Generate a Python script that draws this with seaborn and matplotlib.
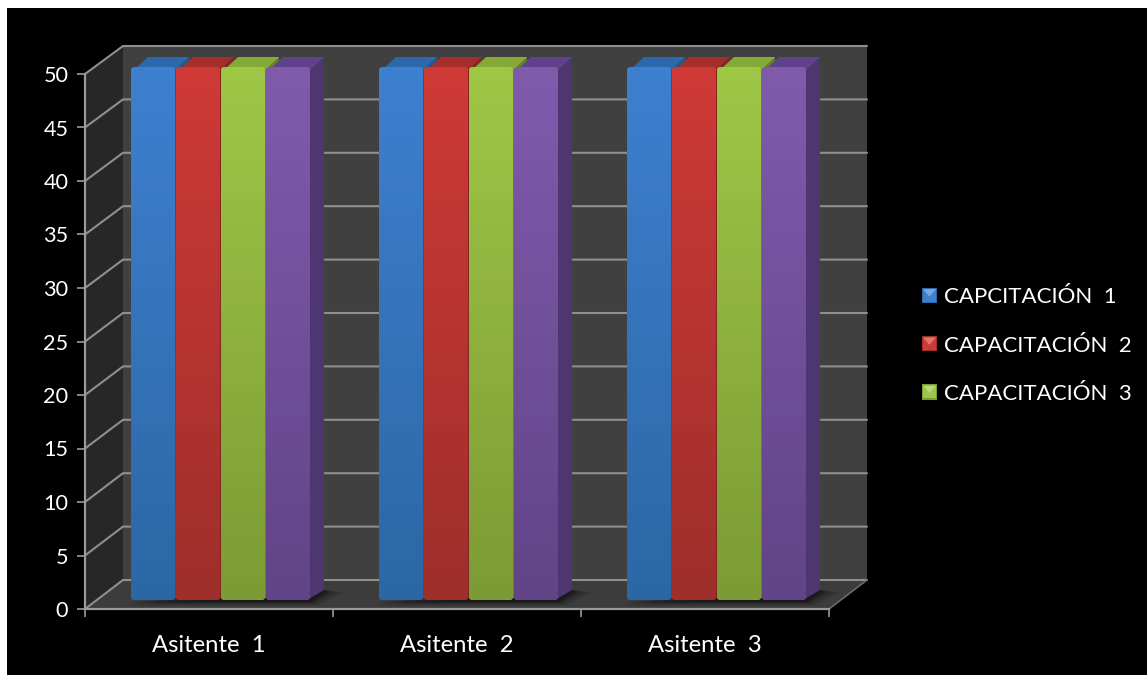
import numpy as np
import pandas as pd
import matplotlib
matplotlib.use("Agg")
import matplotlib.pyplot as plt
import seaborn as sns
from matplotlib.colors import LinearSegmentedColormap, to_rgb
from matplotlib.legend_handler import HandlerBase
from matplotlib.patches import FancyBboxPatch, Polygon, Rectangle

# Data
asistentes = ["Asitente  1", "Asitente  2", "Asitente  3"]
capacitacion_1 = [50, 50, 50]
capacitacion_2 = [50, 50, 50]
capacitacion_3 = [50, 50, 50]
capacitacion_4 = [50, 50, 50]
serie_names = ["CAPCITACIÓN  1", "CAPACITACIÓN  2", "CAPACITACIÓN  3", "Serie 4"]
y_ticks = list(range(0, 55, 5))

# Per-series colours: top of face, bottom of face, top cap, side face
face_top = ["#3e80d0", "#cf3a36", "#9fc746", "#805bac"]
face_bottom = ["#2c67a5", "#9e2e2a", "#7c9b35", "#624488"]
cap_color = ["#2d69aa", "#a52d2a", "#87aa37", "#5f418c"]
side_color = ["#27568c", "#822522", "#66802c", "#4e3670"]

W, H = 1147, 675
FRONT = dict(x0=85, x1=829, y0=609, y1=74)      # axis plane, px
BARS = dict(x0=96.5, x1=840.5, y0=600, y1=67)   # plane of the bar faces, px
BACK = dict(x0=123, x1=867, y0=580, y1=46)      # back wall, px
BAR_DEPTH = (14, 10)                            # px to the right / upward


def axes_rect(p):
    return [p["x0"] / W, 1 - p["y0"] / H, (p["x1"] - p["x0"]) / W, (p["y0"] - p["y1"]) / H]


sns.set_theme(style="ticks")
plt.rcParams["font.family"] = ["Lato", "DejaVu Sans"]

df = pd.DataFrame({
    "asistente": asistentes * 4,
    "serie": np.repeat(serie_names, 3),
    "valor": capacitacion_1 + capacitacion_2 + capacitacion_3 + capacitacion_4,
})

fig = plt.figure(figsize=(W / 100, H / 100), dpi=100, facecolor="white")

# Black slide background and 3D room (walls, floor) in pixel space
room = fig.add_axes([0, 0, 1, 1], zorder=0)
room.axis("off")
room.add_patch(Rectangle((7, 8), W, H, color="black", lw=0))
room.add_patch(Rectangle((BACK["x0"], BACK["y1"]), BACK["x1"] - BACK["x0"], BACK["y0"] - BACK["y1"],
                         color="#404040", lw=0, zorder=1))
room.add_patch(Polygon([(FRONT["x0"], FRONT["y0"]), (BACK["x0"], BACK["y0"]),
                        (BACK["x0"], BACK["y1"]), (FRONT["x0"], FRONT["y1"])],
                       color="#272727", lw=0, zorder=1))
room.add_patch(Polygon([(FRONT["x0"], FRONT["y0"]), (FRONT["x1"], FRONT["y0"]),
                        (BACK["x1"], BACK["y0"]), (BACK["x0"], BACK["y0"])],
                       color="#3c3c3c", lw=0, zorder=1))

GRID = "#8f8f8f"
dy_front = (FRONT["y0"] - FRONT["y1"]) / 50
dy_back = (BACK["y0"] - BACK["y1"]) / 50
for v in y_ticks:
    yf = FRONT["y0"] - v * dy_front
    yb = BACK["y0"] - v * dy_back
    room.plot([FRONT["x0"], BACK["x0"], BACK["x1"]], [yf, yb, yb], color=GRID, lw=1.5,
              zorder=2, solid_joinstyle="miter")
room.plot([FRONT["x1"], BACK["x1"]], [FRONT["y0"], BACK["y0"]], color="#6a6a6a", lw=1.2, zorder=2)
room.set_xlim(0, W)
room.set_ylim(H, 0)

# Axis plane carrying the real ticks and labels
front = fig.add_axes(axes_rect(FRONT), zorder=1)
front.patch.set_visible(False)
front.set_xlim(-0.5, 2.5)
front.set_ylim(0, 50)
front.set_yticks(y_ticks)
front.set_xticks(range(3), asistentes)
front.set_xticks([-0.5, 0.5, 1.5, 2.5], minor=True)
front.tick_params(axis="y", colors="#9a9a9a", labelcolor="white", labelsize=15.6, length=5.5,
                  width=1.2, pad=6.5)
front.tick_params(axis="x", which="major", length=0, labelcolor="white", labelsize=17.2, pad=18.5)
front.tick_params(axis="x", which="minor", colors="#9a9a9a", length=5.5, width=1.2)
for name, spine in front.spines.items():
    spine.set_visible(name in ("left", "bottom"))
    spine.set_color("#9a9a9a")
    spine.set_linewidth(1.6)

# Bars
ax = fig.add_axes(axes_rect(BARS), zorder=2)
ax.patch.set_visible(False)
sns.barplot(data=df, x="asistente", y="valor", hue="serie", hue_order=serie_names,
            palette=face_top, width=0.726, gap=0.022, saturation=1, linewidth=0, ax=ax)
handles, labels = ax.get_legend_handles_labels()
ax.set_xlim(-0.5, 2.5)
ax.set_ylim(0, 50)
ax.set_autoscale_on(False)
ax.set_xlabel("")
ax.set_ylabel("")
ax.set_xticks([])
ax.set_yticks([])
sns.despine(ax=ax, left=True, bottom=True)

# Depth of each bar, expressed in data units of the bar plane
px_x = 3 / (BARS["x1"] - BARS["x0"])
px_y = 50 / (BARS["y0"] - BARS["y1"])
ddx = BAR_DEPTH[0] * px_x
ddy = BAR_DEPTH[1] * px_y

# Soft floor shadow under and to the right of each group
n_groups = len(ax.containers[0].patches)
for j in range(n_groups):
    left = ax.containers[0].patches[j].get_x()
    last = ax.containers[-1].patches[j]
    right = last.get_x() + last.get_width()
    for grow, alpha in zip((20, 13, 7, 3), (0.10, 0.14, 0.18, 0.25)):
        ax.add_patch(Polygon([(left - grow * 0.2 * px_x, -grow * 0.22 * px_y - 1.5 * px_y),
                              (right + grow * 0.4 * px_x, -grow * 0.22 * px_y - 1.5 * px_y),
                              (right + ddx + grow * px_x, ddy * 0.8),
                              (right + ddx, ddy)],
                             color="black", alpha=alpha, lw=0, zorder=1, clip_on=False))

for s, container in enumerate(ax.containers):
    cmap = LinearSegmentedColormap.from_list(f"face{s}", [face_bottom[s], face_top[s]])
    ramp = np.linspace(1, 0, 64)[:, None]
    for j, bar in enumerate(container.patches):
        x, w, h = bar.get_x(), bar.get_width(), bar.get_height()
        z = 3 + s + j * 10
        ax.add_patch(Polygon([(x + w - 3 * px_x, 0), (x + w + ddx, ddy), (x + w + ddx, h + ddy),
                              (x + w - 3 * px_x, h)],
                             color=side_color[s], lw=0, zorder=z, clip_on=False))
        ax.add_patch(Polygon([(x + 3 * px_x, h - 3 * px_y), (x + w, h - 3 * px_y), (x + w + ddx, h + ddy),
                              (x + ddx + 3 * px_x, h + ddy)],
                             color=cap_color[s], lw=0, zorder=z, clip_on=False,
                             joinstyle="round"))
        # Rounded outline shared by the bar and its vertical shading
        outline = FancyBboxPatch((x, 0), w, h, boxstyle=f"round,pad=0,rounding_size={4 * px_x}",
                                 mutation_aspect=px_y / px_x, transform=ax.transData)
        bar.set_zorder(z + 0.1)
        bar.set_clip_path(outline)
        shade = ax.imshow(ramp, cmap=cmap, vmin=0, vmax=1, aspect="auto", extent=(x, x + w, 0, h),
                          zorder=z + 0.2)
        shade.set_clip_path(outline)
ax.set_xlim(-0.5, 2.5)
ax.set_ylim(0, 50)


def lighten(colour, amount):
    return tuple(c + (1 - c) * amount for c in to_rgb(colour))


class BevelSwatch(HandlerBase):
    """Square legend key with a lighter wedge along its top edge."""

    def __init__(self, series_index, **kw):
        super().__init__(**kw)
        self.series_index = series_index

    def create_artists(self, legend, orig_handle, xdescent, ydescent, width, height, fontsize, trans):
        i = self.series_index
        side = height
        x0, y0 = -xdescent + (width - side), -ydescent
        base = Rectangle((x0, y0), side, side, facecolor=face_bottom[i], edgecolor="none", transform=trans)
        band = Rectangle((x0 + 0.1 * side, y0 + 0.1 * side), 0.8 * side, 0.8 * side,
                         facecolor=face_top[i], edgecolor="none", transform=trans)
        wedge = Polygon([(x0 + 0.08 * side, y0 + side * 0.92), (x0 + 0.92 * side, y0 + side * 0.92),
                         (x0 + side / 2, y0 + side * 0.42)],
                        facecolor=lighten(face_top[i], 0.3), edgecolor="none", transform=trans)
        return [base, band, wedge]


legend = ax.legend(handles[:3], labels[:3], loc="center left",
                   bbox_to_anchor=(922 / W, 1 - 345.5 / H), bbox_transform=fig.transFigure,
                   frameon=False, fontsize=16, labelcolor="white", labelspacing=1.27,
                   handlelength=0.68, handleheight=0.68, handletextpad=0.32, borderpad=0, borderaxespad=0,
                   handler_map={h: BevelSwatch(i) for i, h in enumerate(handles[:3])})

fig.savefig("out.png", dpi=100, facecolor="white")
